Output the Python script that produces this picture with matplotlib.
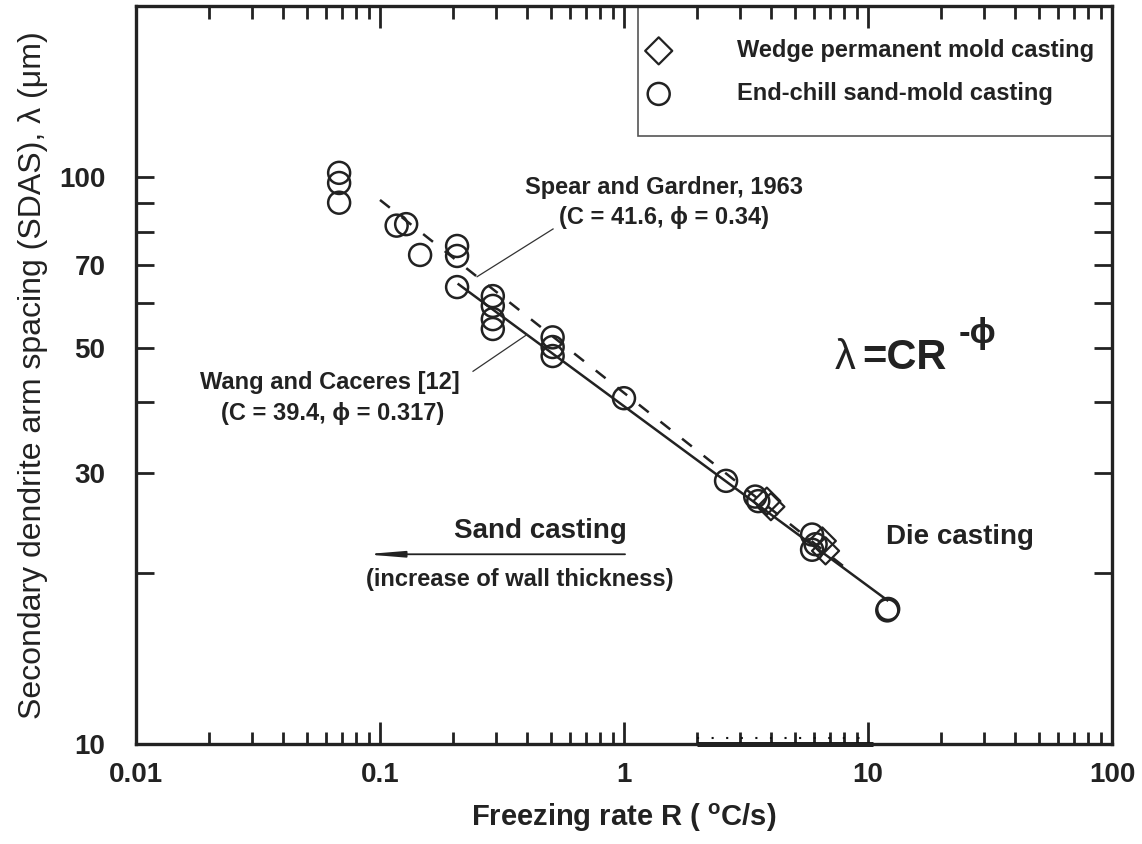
import matplotlib
matplotlib.use("Agg")
import matplotlib.pyplot as plt
import numpy as np
from matplotlib.patches import Rectangle

plt.rcParams["font.family"] = ["Liberation Sans", "DejaVu Sans"]
plt.rcParams["mathtext.fontset"] = "custom"
plt.rcParams["mathtext.rm"] = "Liberation Sans"
plt.rcParams["mathtext.bf"] = "Liberation Sans:bold"

# end-chill sand-mold casting (circles)
sand_rate = [0.068, 0.068, 0.068, 0.117, 0.128, 0.146, 0.207, 0.207, 0.207,
             0.29, 0.29, 0.29, 0.29, 0.51, 0.51, 0.51, 1.0, 2.62, 3.45, 3.55,
             5.9, 5.9, 6.1, 12.0, 12.1]
sand_sdas = [101.6, 97.5, 90.0, 82.0, 82.5, 72.8, 75.5, 72.5, 63.9,
             61.6, 59.2, 56.1, 53.9, 52.1, 50.1, 48.3, 40.7, 29.1, 27.3, 26.8,
             23.4, 22.0, 22.5, 17.2, 17.3]

# wedge permanent mold casting (diamonds)
wedge_rate = [3.85, 4.0, 6.5, 6.7]
wedge_sdas = [26.8, 26.2, 22.8, 21.9]

# fits lambda = C * R^-phi
spear_C, spear_phi, spear_range = 41.6, 0.34, (0.1, 8.0)
wang_C, wang_phi, wang_range = 39.4, 0.317, (0.21, 12.0)

xticks = [0.01, 0.1, 1, 10, 100]
xticklabels = ["0.01", "0.1", "1", "10", "100"]
yticks = [10, 30, 50, 70, 100]
yticklabels = ["10", "30", "50", "70", "100"]
yminor = [20, 40, 60, 80, 90]

fig = plt.figure(figsize=(11.42, 8.44), dpi=100)
ax = fig.add_axes([0.1191, 0.1185, 0.8546, 0.8744])
ax.set_xscale("log")
ax.set_yscale("log")
ax.set_xlim(0.01, 100)
ax.set_ylim(10, 200)

r = np.logspace(np.log10(spear_range[0]), np.log10(spear_range[1]), 60)
ax.plot(r, spear_C * r ** -spear_phi, color="#222222", lw=1.8, ls=(0, (5, 6)))
r = np.logspace(np.log10(wang_range[0]), np.log10(wang_range[1]), 60)
ax.plot(r, wang_C * r ** -wang_phi, color="#222222", lw=1.8)

h_sand = ax.scatter(sand_rate, sand_sdas, s=250, marker="o", facecolors="none",
                    edgecolors="#222222", linewidths=1.8, zorder=3)
h_wedge = ax.scatter(wedge_rate, wedge_sdas, s=190, marker="D", facecolors="none",
                     edgecolors="#222222", linewidths=1.6, zorder=3)

# ticks
ax.set_xticks(xticks)
ax.set_xticklabels(xticklabels)
ax.set_yticks(yticks)
ax.set_yticklabels(yticklabels)
ax.set_yticks(yminor, minor=True)
ax.yaxis.set_minor_formatter(matplotlib.ticker.NullFormatter())
ax.tick_params(which="both", direction="in", top=True, right=True, colors="#222222")
ax.tick_params(axis="x", which="major", length=16, width=2, pad=13, labelsize=20)
ax.tick_params(axis="x", which="minor", length=9, width=2)
ax.tick_params(axis="y", which="both", length=13, width=2, pad=22, labelsize=20)
for lab in ax.get_xticklabels() + ax.get_yticklabels():
    lab.set_fontweight("bold")
for sp in ax.spines.values():
    sp.set_linewidth(2.4)
    sp.set_color("#222222")

ax.set_xlabel(r"Freezing rate R ( $\mathbf{^{o}}$C/s)", fontsize=21, fontweight="bold",
              color="#222222", labelpad=10)
ax.set_ylabel("Secondary dendrite arm spacing (SDAS), λ (μm)", fontsize=23,
              color="#222222", labelpad=8)

# artifact on the bottom axis
ax.plot([2.0, 10.5], [10, 10], color="#111111", lw=3.5, solid_capstyle="butt", clip_on=False)
ax.plot([2.0, 9.5], [10.25, 10.25], color="#111111", lw=1.5, ls=(0, (1, 6)), clip_on=False)

# annotations
tk = dict(fontsize=17, fontweight="bold", color="#222222", ha="center", va="center")
ax.text(1.46, 95.8, "Spear and Gardner, 1963", **tk)
ax.text(1.46, 84.7, "(C = 41.6, ϕ = 0.34)", **tk)
ax.plot([0.25, 0.512], [spear_C * 0.25 ** -spear_phi, 80.9], color="#333333", lw=0.9)
ax.text(0.0624, 43.3, "Wang and Caceres [12]", **tk)
ax.text(0.0640, 38.3, "(C = 39.4, ϕ = 0.317)", **tk)
ax.plot([0.2406, 0.40], [45.4, wang_C * 0.40 ** -wang_phi], color="#333333", lw=0.9)

ax.text(0.453, 23.7, "Sand casting", fontsize=20, fontweight="bold", color="#222222",
        ha="center", va="center")
ax.annotate("", xy=(0.0868, 21.6), xytext=(1.01, 21.6),
            arrowprops=dict(arrowstyle="-|>,head_length=2.2,head_width=0.18",
                            color="#222222", lw=1.3, shrinkA=0, shrinkB=0))
ax.text(0.375, 19.5, "(increase of wall thickness)", fontsize=17, fontweight="bold",
        color="#222222", ha="center", va="center")
ax.text(23.8, 23.2, "Die casting", fontsize=20, fontweight="bold", color="#222222",
        ha="center", va="center")

ax.text(7.32, 45.8, "λ", fontsize=30, color="#222222", ha="left", va="baseline")
ax.text(9.44, 45.8, "=CR", fontsize=30, fontweight="bold", color="#222222",
        ha="left", va="baseline")
ax.text(23.5, 51.0, "-ϕ", fontsize=25, fontweight="bold", color="#222222",
        ha="left", va="baseline")

# legend
ax.add_patch(Rectangle((0.5143, 0.8238), 0.4857, 0.1762, transform=ax.transAxes,
                       facecolor="white", edgecolor="#555555", lw=1.2, zorder=1.5,
                       clip_on=False))
leg = ax.legend([h_wedge, h_sand],
                ["Wedge permanent mold casting", "End-chill sand-mold casting"],
                loc="upper left", bbox_to_anchor=(0.5017, 0.968), frameon=False,
                prop=dict(size=17, weight="bold"), handletextpad=2.3,
                labelspacing=0.85, markerscale=1.0, borderaxespad=0)
leg.set_zorder(5)
for t in leg.get_texts():
    t.set_color("#222222")

fig.savefig("out.png", dpi=100)
